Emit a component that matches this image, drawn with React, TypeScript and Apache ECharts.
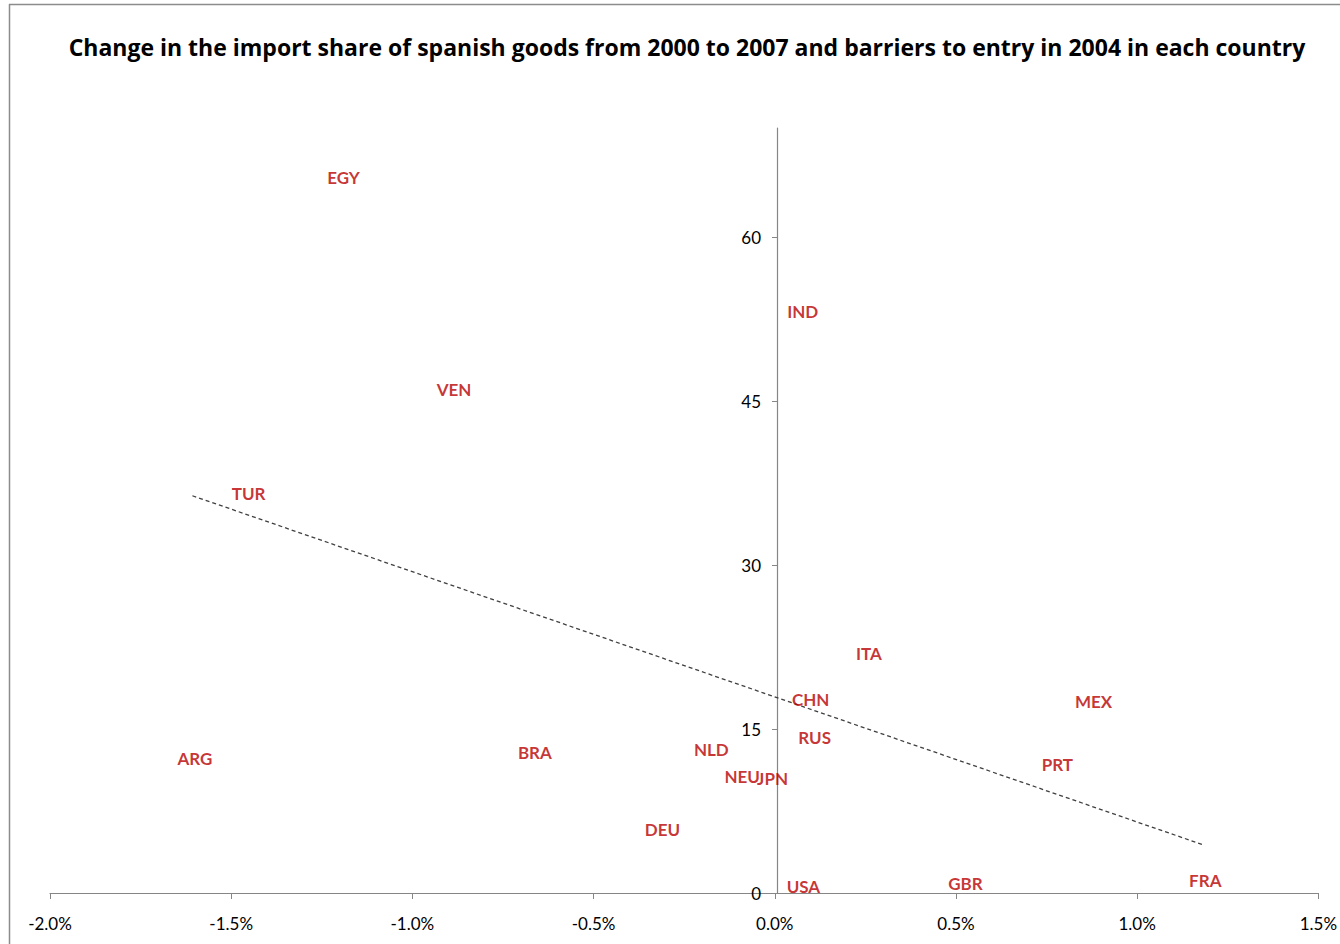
import React, { useEffect, useRef } from "react";
import * as echarts from "echarts";

const TITLE =
  "Change in the import share of spanish goods from 2000 to 2007 and barriers to entry in 2004 in each country";

const countries = ["EGY", "VEN", "TUR", "IND", "ITA", "CHN", "MEX", "RUS", "PRT", "ARG", "BRA", "NLD", "NEU", "JPN", "DEU", "USA", "GBR", "FRA"];
const importShareChange = [-1.19, -0.885, -1.452, 0.077, 0.26, 0.099, 0.88, 0.11, 0.78, -1.6, -0.662, -0.175, -0.09, -0.006, -0.31, 0.079, 0.526, 1.188];
const barriersToEntry = [65.5, 46.1, 36.6, 53.2, 21.9, 17.7, 17.5, 14.2, 11.8, 12.3, 12.9, 13.1, 10.7, 10.5, 5.8, 0.55, 0.9, 1.1];

const trendX = [-1.607, 1.183];
const trendY = [36.35, 4.4];

const yTicks = [0, 15, 30, 45, 60];

export default function App() {
  const ref = useRef<HTMLDivElement>(null);
  useEffect(() => {
    document.body.style.margin = "0";
    const chart = echarts.init(ref.current!, null, { renderer: "svg" });
    const font = "Lato, 'Open Sans', sans-serif";
    chart.setOption({
      animation: false,
      backgroundColor: "#ffffff",
      title: {
        text: TITLE,
        left: 682,
        textAlign: "center",
        top: 30,
        textStyle: { fontFamily: "'Open Sans', sans-serif", fontSize: 23, fontWeight: "bold", color: "#000" },
      },
      graphic: [
        { type: "line", shape: { x1: 9, y1: 4.5, x2: 1345, y2: 4.5 }, style: { stroke: "#8c8c8c", lineWidth: 1.5 } },
        { type: "line", shape: { x1: 9.5, y1: 4, x2: 9.5, y2: 950 }, style: { stroke: "#8c8c8c", lineWidth: 1.5 } },
      ],
      grid: { left: 50, right: 18, top: 128, bottom: 51, containLabel: false },
      xAxis: {
        type: "value",
        min: -2,
        max: 1.5,
        interval: 0.5,
        splitLine: { show: false },
        axisLine: { onZero: false, lineStyle: { color: "#868686", width: 1.2 } },
        axisTick: { show: true, length: 6, lineStyle: { color: "#868686" } },
        axisLabel: {
          fontFamily: font,
          fontSize: 17,
          color: "#000",
          margin: 22,
          formatter: (v: number) => v.toFixed(1) + "%",
        },
      },
      yAxis: {
        type: "value",
        min: 0,
        max: 70,
        interval: 15,
        offset: -727,
        splitLine: { show: false },
        axisLine: { onZero: false, lineStyle: { color: "#868686", width: 1.2 } },
        axisTick: { show: true, length: 5, customValues: yTicks, lineStyle: { color: "#868686" } },
        axisLabel: {
          fontFamily: font,
          fontSize: 17,
          color: "#000",
          margin: 16,
          customValues: yTicks,
        },
      },
      series: [
        {
          type: "line",
          data: trendX.map((x, i) => [x, trendY[i]]),
          symbol: "none",
          lineStyle: { type: [4, 3], color: "#404040", width: 1.3 },
          z: 1,
        },
        {
          type: "scatter",
          symbolSize: 0,
          data: countries.map((c, i) => ({ name: c, value: [importShareChange[i], barriersToEntry[i]] })),
          label: {
            show: true,
            position: "inside",
            formatter: (p: any) => p.name,
            fontFamily: font,
            fontSize: 17,
            fontWeight: "bold",
            color: "#B80000",
          },
          z: 3,
        },
      ],
    });
    return () => chart.dispose();
  }, []);
  return <div ref={ref} style={{ width: 1340, height: 944, overflow: "hidden" }} />;
}
